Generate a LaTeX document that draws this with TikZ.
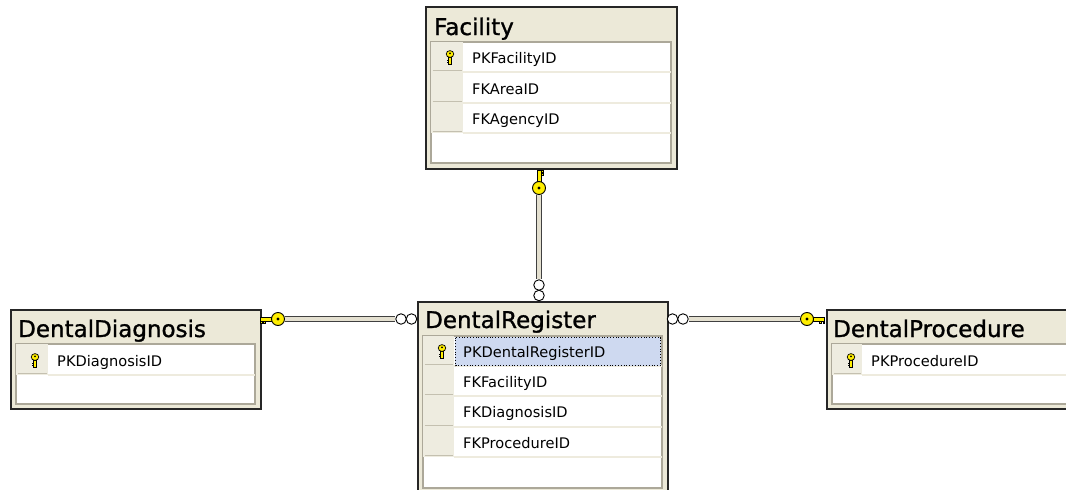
\documentclass[tikz,border=0pt]{standalone}
\usepackage{fontspec}
\setmainfont{DejaVu Sans}
\newfontfamily\ttlfont[FakeBold=1.2]{DejaVu Sans}
\usetikzlibrary{calc}
\definecolor{titlebg}{RGB}{236,233,216}
\definecolor{keycol}{RGB}{238,236,224}
\definecolor{panelline}{RGB}{172,168,153}
\definecolor{keylinec}{RGB}{196,192,176}
\definecolor{sepline}{RGB}{238,235,222}
\definecolor{keyyellow}{RGB}{255,238,0}
\definecolor{selblue}{RGB}{206,217,240}
\definecolor{connfill}{RGB}{228,224,208}
\tikzset{
  tablebox/.style={draw=black!85, line width=1.6pt, fill=titlebg, inner sep=0pt, anchor=north west},
  tabletitle/.style={anchor=base west, inner sep=0pt, font=\ttlfont\fontsize{23}{26}\selectfont},
  rowtext/.style={anchor=base west, inner sep=0pt, font=\fontsize{14.6}{16}\selectfont},
  panel/.style={fill=white, draw=panelline, line width=1.3pt},
  keyline/.style={draw=keylinec, line width=1.6pt},
  sepl/.style={draw=sepline, line width=1.4pt},
  conn/.style={draw=black!75, double=connfill, line width=0.9pt, double distance=3.8pt},
  manyend/.style={circle, draw=black, fill=white, line width=0.9pt, minimum size=10.5pt, inner sep=0pt},
  keyring/.style={circle, draw=black, fill=keyyellow, line width=0.9pt, minimum size=13pt, inner sep=0pt,
    path picture={\fill[black] (path picture bounding box.center) circle (1.6pt);}},
  rowkey/.pic={
    \draw[fill=keyyellow, line width=0.7pt] (-1.4,0) rectangle (1.4,7);
    \draw[line width=0.8pt] (-1.4,3) -- (-3.2,3) (-1.4,5.5) -- (-3.2,5.5);
    \draw[fill=keyyellow, line width=0.7pt] (0,-3) ellipse (3.8 and 3.4);
    \fill[black] (0,-3.6) circle (1);
  }
}
% key shaft and teeth of a relationship end, drawn pointing to -x, teeth to +y
\newcommand{\keyshaft}{%
  \draw[fill=keyyellow, line width=0.8pt] (-6,-1.9) rectangle (-17.5,1.9);
  \draw[fill=keyyellow, line width=0.7pt] (-14.5,1.9) rectangle (-12.5,4.6);
  \draw[fill=keyyellow, line width=0.7pt] (-17.5,1.9) rectangle (-16,4);
}
\newcommand{\erow}[5]{% x1 xk x2 ytop ybot
  \fill[keycol] (#1,#4) rectangle (#2,#5);
  \draw[keyline] ($(#1,#5)+(1.5,-1.5)$) -- ($(#2,#5)+(-1,-1.5)$);
  \draw[sepl] (#2,#5) -- (#3,#5);
}
\begin{document}
\begin{tikzpicture}[x=1pt,y=-1pt]
\useasboundingbox (0,0) rectangle (1066,490);
\clip (0,0) rectangle (1066,490);
\fill[white] (0,0) rectangle (1066,490);

% ---------- Facility ----------
\node[tablebox, minimum width=251pt, minimum height=162pt] (fac) at (425,6) {};
\node[tabletitle] (fact) at (434,35) {Facility};
\draw[panel] (431,42) rectangle (671,163);
\erow{431}{463}{671}{42}{72}
\erow{431}{463}{671}{72}{103}
\erow{431}{463}{671}{103}{133}
\pic at (450,57) {rowkey};
\node[rowtext] (fac1) at (472,63) {PKFacilityID};
\node[rowtext] (fac2) at (472,94) {FKAreaID};
\node[rowtext] (fac3) at (472,124) {FKAgencyID};

% ---------- DentalDiagnosis ----------
\node[tablebox, minimum width=250pt, minimum height=99pt] (diag) at (10,309) {};
\node[tabletitle] (diagt) at (18,337) {DentalDiagnosis};
\draw[panel] (16,344) rectangle (255,404);
\erow{16}{48}{255}{344}{375}
\pic at (35,360) {rowkey};
\node[rowtext] (diag1) at (57,366) {PKDiagnosisID};

% ---------- DentalRegister ----------
\node[tablebox, minimum width=250pt, minimum height=200pt] (reg) at (417,301) {};
\node[tabletitle] (regt) at (425,328) {DentalRegister};
\draw[panel] (423,336) rectangle (662,488);
\erow{423}{454}{662}{336}{366}
\erow{423}{454}{662}{366}{396}
\erow{423}{454}{662}{396}{427}
\erow{423}{454}{662}{427}{457}
\fill[selblue] (455,337) rectangle (661,366);
\draw[black, dotted, line width=0.8pt] (455.5,337.5) rectangle (660.5,365.5);
\pic at (442,351) {rowkey};
\node[rowtext] (reg1) at (463,357) {PKDentalRegisterID};
\node[rowtext] (reg2) at (463,387) {FKFacilityID};
\node[rowtext] (reg3) at (463,417) {FKDiagnosisID};
\node[rowtext] (reg4) at (463,448) {FKProcedureID};

% ---------- DentalProcedure ----------
\node[tablebox, minimum width=260pt, minimum height=99pt] (proc) at (826,309) {};
\node[tabletitle] (proct) at (833,337) {DentalProcedure};
\draw[panel] (832,344) rectangle (1075,404);
\erow{832}{862}{1075}{344}{375}
\pic at (851,360) {rowkey};
\node[rowtext] (proc1) at (871,366) {PKProcedureID};

% ---------- Relationships ----------
% Facility -> DentalRegister (vertical)
\begin{scope}[shift={(539,188)}, cm={0,-1,-1,0,(0,0)}]
  \keyshaft
\end{scope}
\node[keyring] (fk) at (539,188) {};
\node[manyend] (fm2) at (539,295.5) {};
\node[manyend] (fm1) at (539,285) {};
\draw[conn] (fk) -- (fm1);

% DentalDiagnosis -> DentalRegister
\begin{scope}[shift={(278,319)}]
  \keyshaft
\end{scope}
\node[keyring] (dk) at (278,319) {};
\node[manyend] (dm2) at (411.5,319) {};
\node[manyend] (dm1) at (401,319) {};
\draw[conn] (dk) -- (dm1);

% DentalProcedure -> DentalRegister
\begin{scope}[shift={(807,319)}, xscale=-1]
  \keyshaft
\end{scope}
\node[keyring] (pk) at (807,319) {};
\node[manyend] (pm2) at (672.5,319) {};
\node[manyend] (pm1) at (683,319) {};
\draw[conn] (pm1) -- (pk);
\end{tikzpicture}
\end{document}
